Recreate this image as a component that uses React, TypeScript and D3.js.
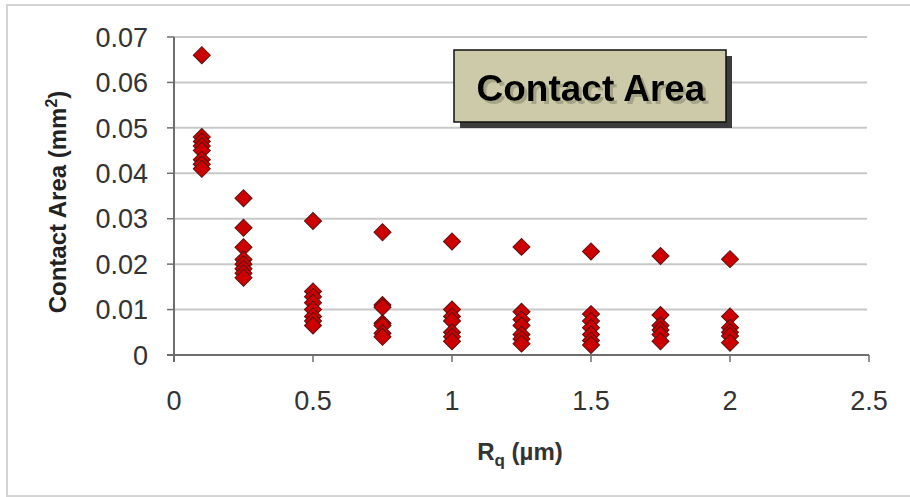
import React from "react";
import * as d3 from "d3";

// Roughness levels (Rq, µm) and the measured contact areas (mm²) at each level
const rqLevels = [0.1, 0.25, 0.5, 0.75, 1, 1.25, 1.5, 1.75, 2];
const areaAt010 = [0.066, 0.048, 0.047, 0.046, 0.045, 0.043, 0.042, 0.041];
const areaAt025 = [0.0345, 0.028, 0.0237, 0.021, 0.02, 0.019, 0.018, 0.017];
const areaAt050 = [0.0295, 0.014, 0.0128, 0.0115, 0.01, 0.0085, 0.0075, 0.0065];
const areaAt075 = [0.027, 0.011, 0.0105, 0.007, 0.0065, 0.0048, 0.004];
const areaAt100 = [0.025, 0.01, 0.0085, 0.0075, 0.005, 0.004, 0.003];
const areaAt125 = [0.0238, 0.0095, 0.0078, 0.0065, 0.0045, 0.0035, 0.0025];
const areaAt150 = [0.0228, 0.009, 0.0075, 0.006, 0.0045, 0.0032, 0.0022];
const areaAt175 = [0.0218, 0.0088, 0.0065, 0.0055, 0.0045, 0.003];
const areaAt200 = [0.0211, 0.0085, 0.006, 0.005, 0.0042, 0.0027];
const areaSets = [areaAt010, areaAt025, areaAt050, areaAt075, areaAt100, areaAt125, areaAt150, areaAt175, areaAt200];

const xTicks = [0, 0.5, 1, 1.5, 2, 2.5];
const yTicks = [0, 0.01, 0.02, 0.03, 0.04, 0.05, 0.06, 0.07];

export default function App() {
  const W = 910, H = 497;
  const left = 174, right = 869, top = 37, bottom = 355;
  const x = d3.scaleLinear().domain([0, 2.5]).range([left, right]);
  const y = d3.scaleLinear().domain([0, 0.07]).range([bottom, top]);
  const diamond = d3.symbol().type(d3.symbolSquare).size(145)() as string;
  const points = rqLevels.flatMap((rq, i) => areaSets[i].map((v) => ({ rq, v })));
  const font = "'Liberation Sans', Arial, sans-serif";

  return (
    <svg width={W} height={H} style={{ position: "absolute", left: 0, top: 0, background: "#fff" }}>
      <defs>
        <filter id="titleShadow" x="-10%" y="-30%" width="120%" height="160%">
          <feOffset in="SourceAlpha" dx={3} dy={3} result="off" />
          <feFlood floodColor="#8c8a70" floodOpacity={0.6} />
          <feComposite in2="off" operator="in" result="shadow" />
          <feMerge>
            <feMergeNode in="shadow" />
            <feMergeNode in="SourceGraphic" />
          </feMerge>
        </filter>
      </defs>
      <rect x={7} y={5} width={910} height={491} fill="#fff" stroke="#d4d4d4" strokeWidth={2} />
      {/* gridlines */}
      {yTicks.slice(1).map((t) => (
        <line key={t} x1={left} x2={867} y1={y(t)} y2={y(t)} stroke="#c8c8c8" strokeWidth={2} />
      ))}
      {/* axes */}
      <line x1={left} x2={left} y1={top} y2={bottom + 7} stroke="#6e6e6e" strokeWidth={2} />
      <line x1={left - 7} x2={right} y1={bottom} y2={bottom} stroke="#6e6e6e" strokeWidth={2} />
      {yTicks.map((t) => (
        <g key={t}>
          <line x1={left - 7} x2={left} y1={y(t)} y2={y(t)} stroke="#6e6e6e" strokeWidth={1.5} />
          <text x={left - 26} y={y(t)} dy="0.36em" textAnchor="end" fontFamily={font} fontSize={27} fill="#333">
            {t === 0 ? "0" : d3.format(".2f")(t)}
          </text>
        </g>
      ))}
      {xTicks.map((t) => (
        <g key={t}>
          <line x1={x(t)} x2={x(t)} y1={bottom} y2={bottom + 7} stroke="#6e6e6e" strokeWidth={1.5} />
          <text x={x(t)} y={bottom + 55} textAnchor="middle" fontFamily={font} fontSize={27} fill="#333">
            {String(t)}
          </text>
        </g>
      ))}
      {/* axis titles */}
      <text x={520} y={460} textAnchor="middle" fontFamily={font} fontSize={24} fontWeight="bold" fill="#333">
        R<tspan fontSize={17} dy={6}>q</tspan><tspan dy={-6}> (µm)</tspan>
      </text>
      <text transform={`translate(66,${(top + bottom) / 2 + 6}) rotate(-90)`} textAnchor="middle" fontFamily={font} fontSize={24} fontWeight="bold" fill="#222">
        Contact Area (mm<tspan fontSize={16} dy={-9}>2</tspan><tspan dy={9}>)</tspan>
      </text>
      {/* data */}
      {points.map((p, i) => (
        <path key={i} d={diamond} transform={`translate(${x(p.rq)},${y(p.v)}) rotate(45)`} fill="#cc0000" stroke="#5a1010" strokeWidth={1} />
      ))}
      {/* title box */}
      <rect x={460} y={56} width={272} height={72} fill="#3c3c3c" />
      <rect x={454} y={50} width={272} height={72} fill="#cccaa8" stroke="#111" strokeWidth={1.5} />
      <text x={591} y={101} textAnchor="middle" fontFamily={font} fontSize={37} fontWeight="bold" fill="#000" filter="url(#titleShadow)">
        Contact Area
      </text>
    </svg>
  );
}
